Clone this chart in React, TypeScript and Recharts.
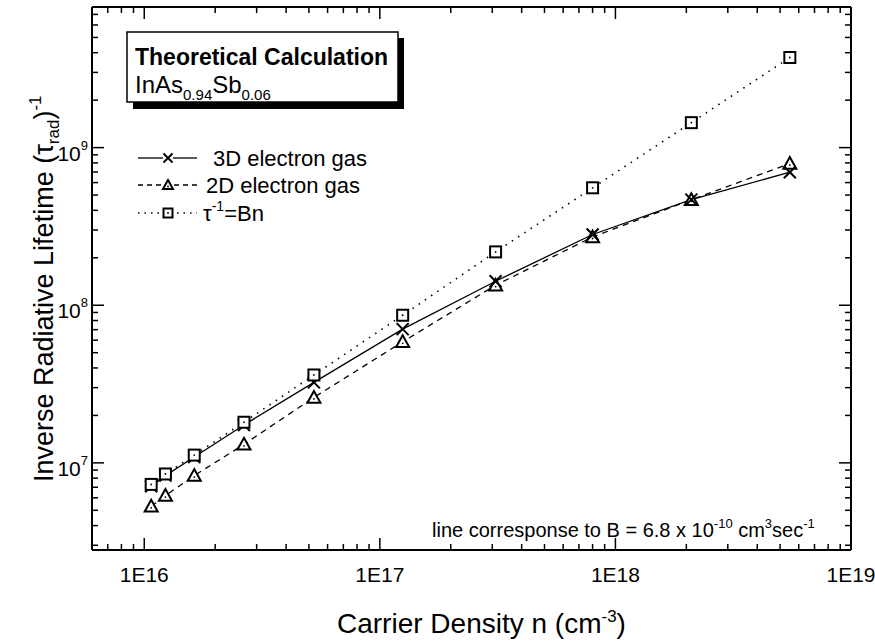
import { LineChart, Line, XAxis, YAxis, Legend, Label } from 'recharts';

// carrier density n (cm^-3)
const density = [1.07e16, 1.23e16, 1.63e16, 2.65e16, 5.25e16, 1.25e17, 3.1e17, 8.0e17, 2.1e18, 5.5e18];
// inverse radiative lifetime (1/s)
const rate3D = [7.1e6, 8.3e6, 1.09e7, 1.74e7, 3.24e7, 7.05e7, 1.42e8, 2.81e8, 4.68e8, 6.98e8];
const rate2D = [5.3e6, 6.2e6, 8.3e6, 1.31e7, 2.6e7, 5.86e7, 1.34e8, 2.71e8, 4.67e8, 7.92e8];
const rateBn = [7.3e6, 8.5e6, 1.12e7, 1.81e7, 3.61e7, 8.64e7, 2.18e8, 5.56e8, 1.44e9, 3.73e9];

const seriesNames = ['3D electron gas', '2D electron gas', '=Bn'];
const xDecades = [16, 17, 18, 19];
const xTickLabels = ['1E16', '1E17', '1E18', '1E19'];
const yDecades = [7, 8, 9];

const X_DOMAIN = [6e15, 1e19];
const Y_DOMAIN = [2.8e6, 7.8e9];
const FONT = '"Liberation Sans", Arial, Helvetica, sans-serif';
const MAJOR = 12;
const MINOR = 6;

const data = density.map((n, i) => ({ n, d3: rate3D[i], d2: rate2D[i], bn: rateBn[i] }));

// major + minor ticks of a log axis
function logTicks(decades: number[], lo: number, hi: number) {
  const out: number[] = [];
  for (let d = decades[0] - 1; d <= decades[decades.length - 1]; d++) {
    for (let m = 1; m <= 9; m++) {
      const v = m * Math.pow(10, d);
      if (v >= lo * 0.999 && v <= hi * 1.001) out.push(v);
    }
  }
  return out;
}
const xTicks = logTicks(xDecades, X_DOMAIN[0], X_DOMAIN[1]);
const yTicks = logTicks(yDecades, Y_DOMAIN[0], Y_DOMAIN[1]);

const isMajor = (v: number) => {
  const l = Math.log10(v);
  return Math.abs(l - Math.round(l)) < 1e-6;
};

function BottomTick({ x, y, payload }: any) {
  const major = isMajor(payload.value);
  const idx = xDecades.indexOf(Math.round(Math.log10(payload.value)));
  return (
    <g>
      <line x1={x} y1={y} x2={x} y2={y - (major ? MAJOR : MINOR)} stroke="#000" strokeWidth={1.5} />
      {major && idx >= 0 && (
        <text x={x} y={y + 32} textAnchor="middle" fontSize={21} fontFamily={FONT} fill="#000">
          {xTickLabels[idx]}
        </text>
      )}
    </g>
  );
}

function TopTick({ x, y, payload }: any) {
  const major = isMajor(payload.value);
  return <line x1={x} y1={y} x2={x} y2={y + (major ? MAJOR : MINOR)} stroke="#000" strokeWidth={1.5} />;
}

function LeftTick({ x, y, payload }: any) {
  const major = isMajor(payload.value);
  const exp = Math.round(Math.log10(payload.value));
  return (
    <g>
      <line x1={x} y1={y} x2={x + (major ? MAJOR : MINOR)} y2={y} stroke="#000" strokeWidth={1.5} />
      {major && yDecades.includes(exp) && (
        <text x={x - 4} y={y + 13} textAnchor="end" fontSize={21} fontFamily={FONT} fill="#000">
          10
          <tspan dy={-11} fontSize={13}>
            {exp}
          </tspan>
        </text>
      )}
    </g>
  );
}

function RightTick({ x, y, payload }: any) {
  const major = isMajor(payload.value);
  return <line x1={x} y1={y} x2={x - (major ? MAJOR : MINOR)} y2={y} stroke="#000" strokeWidth={1.5} />;
}

// markers
const Cross = ({ cx, cy, s = 6 }: any) => (
  <g stroke="#000" strokeWidth={2}>
    <line x1={cx - s} y1={cy - s} x2={cx + s} y2={cy + s} />
    <line x1={cx - s} y1={cy + s} x2={cx + s} y2={cy - s} />
  </g>
);
const Tri = ({ cx, cy, s = 6.5 }: any) => (
  <g>
    <polygon
      points={`${cx},${cy - s} ${cx - s},${cy + s * 0.8} ${cx + s},${cy + s * 0.8}`}
      fill="#fff"
      stroke="#000"
      strokeWidth={2}
    />
    <circle cx={cx} cy={cy + 1.5} r={0.9} fill="#000" />
  </g>
);
const Sq = ({ cx, cy, s = 5.5 }: any) => (
  <g>
    <rect x={cx - s} y={cy - s} width={2 * s} height={2 * s} fill="#fff" stroke="#000" strokeWidth={2} />
    <circle cx={cx} cy={cy} r={0.9} fill="#000" />
  </g>
);

const crossDot = (p: any) => <Cross key={`c${p.index}`} cx={p.cx} cy={p.cy} />;
const triDot = (p: any) => <Tri key={`t${p.index}`} cx={p.cx} cy={p.cy} />;
const sqDot = (p: any) => <Sq key={`s${p.index}`} cx={p.cx} cy={p.cy} />;

const XTitle = () => (
  <text x={337} y={633} fontSize={28} fontFamily={FONT} fill="#000">
    Carrier Density n (cm
    <tspan dy={-11} fontSize={17}>
      -3
    </tspan>
    <tspan dy={11}>)</tspan>
  </text>
);

const YTitle = () => (
  <text transform="rotate(-90)" x={-482} y={53} fontSize={27} fontFamily={FONT} fill="#000">
    Inverse Radiative Lifetime (τ
    <tspan dy={6} fontSize={17}>
      rad
    </tspan>
    <tspan dy={-6}>)</tspan>
    <tspan dy={-12} fontSize={17}>
      -1
    </tspan>
  </text>
);

function LegendBox() {
  const rows = [18, 45, 73];
  const textX = [83, 76, 73];
  return (
    <svg width={280} height={95} style={{ overflow: 'visible' }}>
      <line x1={8} y1={rows[0]} x2={33} y2={rows[0]} stroke="#000" strokeWidth={1.3} />
      <line x1={43} y1={rows[0]} x2={67} y2={rows[0]} stroke="#000" strokeWidth={1.3} />
      <Cross cx={38} cy={rows[0]} s={4.5} />
      <line x1={8} y1={rows[1]} x2={67} y2={rows[1]} stroke="#000" strokeWidth={1.3} strokeDasharray="5 4" />
      <Tri cx={38} cy={rows[1]} s={5} />
      <line x1={8} y1={rows[2]} x2={67} y2={rows[2]} stroke="#000" strokeWidth={1.5} strokeDasharray="1.5 5" />
      <Sq cx={38} cy={rows[2]} s={4.5} />
      <text x={textX[0]} y={rows[0] + 8} fontSize={22} fontFamily={FONT} fill="#000">
        {seriesNames[0]}
      </text>
      <text x={textX[1]} y={rows[1] + 8} fontSize={22} fontFamily={FONT} fill="#000">
        {seriesNames[1]}
      </text>
      <text x={textX[2]} y={rows[2] + 8} fontSize={22} fontFamily={FONT} fill="#000">
        τ
        <tspan dy={-10} fontSize={14}>
          -1
        </tspan>
        <tspan dy={10}>{seriesNames[2]}</tspan>
      </text>
    </svg>
  );
}

const axisLine = { stroke: '#000', strokeWidth: 2 };

export default function App() {
  return (
    <div style={{ position: 'absolute', left: 0, top: 0, width: 875, height: 644, background: '#fff' }}>
      <LineChart width={875} height={644} data={data} margin={{ top: 6, right: 23, bottom: 93, left: 91 }}>
        <XAxis
          xAxisId="b"
          dataKey="n"
          type="number"
          scale="log"
          domain={X_DOMAIN}
          allowDataOverflow
          ticks={xTicks}
          interval={0}
          tick={BottomTick}
          tickLine={false}
          tickSize={0}
          tickMargin={0}
          height={1}
          axisLine={axisLine}
        >
          <Label content={XTitle} />
        </XAxis>
        <XAxis
          xAxisId="t"
          orientation="top"
          dataKey="n"
          type="number"
          scale="log"
          domain={X_DOMAIN}
          allowDataOverflow
          ticks={xTicks}
          interval={0}
          tick={TopTick}
          tickLine={false}
          tickSize={0}
          tickMargin={0}
          height={1}
          axisLine={axisLine}
        />
        <YAxis
          yAxisId="l"
          type="number"
          scale="log"
          domain={Y_DOMAIN}
          allowDataOverflow
          ticks={yTicks}
          interval={0}
          tick={LeftTick}
          tickLine={false}
          tickSize={0}
          tickMargin={0}
          width={1}
          axisLine={axisLine}
        >
          <Label content={YTitle} />
        </YAxis>
        <YAxis
          yAxisId="r"
          orientation="right"
          type="number"
          scale="log"
          domain={Y_DOMAIN}
          allowDataOverflow
          ticks={yTicks}
          interval={0}
          tick={RightTick}
          tickLine={false}
          tickSize={0}
          tickMargin={0}
          width={1}
          axisLine={axisLine}
        />
        <Line
          xAxisId="b"
          yAxisId="l"
          dataKey="d2"
          name={seriesNames[1]}
          type="linear"
          stroke="#000"
          strokeWidth={1.3}
          strokeDasharray="6 5"
          dot={triDot}
          activeDot={false}
          isAnimationActive={false}
        />
        <Line
          xAxisId="b"
          yAxisId="l"
          dataKey="d3"
          name={seriesNames[0]}
          type="linear"
          stroke="#000"
          strokeWidth={1.3}
          dot={crossDot}
          activeDot={false}
          isAnimationActive={false}
        />
        <Line
          xAxisId="b"
          yAxisId="l"
          dataKey="bn"
          name={seriesNames[2]}
          type="linear"
          stroke="#000"
          strokeWidth={1.6}
          strokeDasharray="1.5 6"
          dot={sqDot}
          activeDot={false}
          isAnimationActive={false}
        />
        <Legend
          layout="vertical"
          align="center"
          verticalAlign="middle"
          wrapperStyle={{ left: 130, top: 140, width: 280, height: 95 }}
          content={() => <LegendBox />}
        />
      </LineChart>
      <svg
        width={875}
        height={644}
        style={{ position: 'absolute', left: 0, top: 0, pointerEvents: 'none' }}
      >
        <rect x={133} y={38} width={271} height={71} fill="#000" />
        <rect x={127} y={32} width={271} height={70} fill="#fff" stroke="#000" strokeWidth={1.5} />
        <text x={135} y={65} fontSize={23} fontWeight="bold" fontFamily={FONT} fill="#000">
          Theoretical Calculation
        </text>
        <text x={135} y={93} fontSize={24} fontFamily={FONT} fill="#000">
          InAs
          <tspan dy={7} fontSize={15}>
            0.94
          </tspan>
          <tspan dy={-7}>Sb</tspan>
          <tspan dy={7} fontSize={15}>
            0.06
          </tspan>
        </text>
        <text x={432} y={537} fontSize={20} fontFamily={FONT} fill="#000">
          line corresponse to B = 6.8 x 10
          <tspan dy={-9} fontSize={13}>
            -10
          </tspan>
          <tspan dy={9}> cm</tspan>
          <tspan dy={-9} fontSize={13}>
            3
          </tspan>
          <tspan dy={9}>sec</tspan>
          <tspan dy={-9} fontSize={13}>
            -1
          </tspan>
        </text>
      </svg>
    </div>
  );
}
